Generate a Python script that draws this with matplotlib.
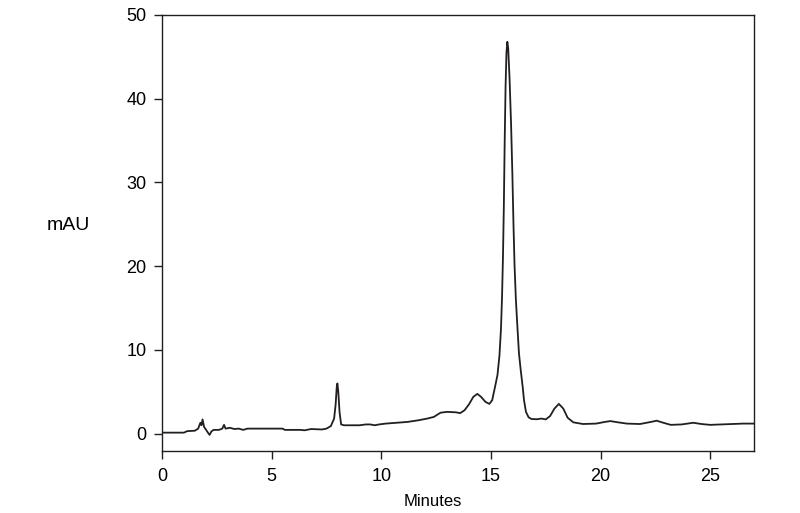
"""Chromatogram trace (mAU vs minutes)."""

import matplotlib

matplotlib.use("Agg")
import matplotlib.pyplot as plt

plt.rcParams["font.family"] = ["Liberation Sans", "DejaVu Sans"]

# retention time (min) and detector response (mAU)
minutes = [
    0.0, 1.0, 1.15, 1.5, 1.65, 1.75, 1.8, 1.85, 1.92, 2.0, 2.1, 2.17, 2.25,
    2.35, 2.6, 2.75, 2.83, 2.9, 3.1, 3.3, 3.5, 3.7, 3.9, 4.5, 5.5, 5.6, 6.3,
    6.5, 6.8, 7.3, 7.5, 7.7, 7.85, 7.92, 7.97, 8.0, 8.04, 8.1, 8.17, 8.3,
    9.0, 9.3, 9.5, 9.7, 9.9, 10.2, 10.7, 11.2, 11.7, 12.1, 12.4, 12.7, 13.0,
    13.4, 13.6, 13.8, 14.0, 14.2, 14.38, 14.55, 14.75, 14.93, 15.06, 15.19,
    15.3, 15.39, 15.46, 15.51, 15.55, 15.59, 15.63, 15.67, 15.71, 15.75,
    15.79, 15.85, 15.92, 15.98, 16.03, 16.08, 16.14, 16.2, 16.28, 16.36,
    16.45, 16.51, 16.6, 16.72, 16.85, 17.1, 17.3, 17.5, 17.7, 17.9, 18.1,
    18.3, 18.5, 18.76, 19.2, 19.8, 20.2, 20.45, 20.8, 21.2, 21.8, 22.3,
    22.56, 22.8, 23.2, 23.7, 24.23, 24.6, 25.0, 25.5, 26.0, 26.5, 27.0,
]
mau = [
    0.12, 0.12, 0.3, 0.35, 0.6, 1.3, 1.0, 1.7, 0.8, 0.5, 0.1, -0.15, 0.25,
    0.45, 0.45, 0.6, 1.05, 0.6, 0.7, 0.55, 0.6, 0.45, 0.6, 0.6, 0.6, 0.45,
    0.45, 0.4, 0.55, 0.5, 0.6, 0.9, 1.8, 3.5, 5.6, 6.0, 5.0, 2.5, 1.1, 1.0,
    1.0, 1.1, 1.1, 1.0, 1.1, 1.2, 1.3, 1.4, 1.6, 1.8, 2.0, 2.5, 2.6,
    2.55, 2.45, 2.8, 3.5, 4.4, 4.75, 4.4, 3.8, 3.55, 4.0, 5.6,
    7.0, 9.3, 12.5, 16.5, 21.0, 27.0, 35.0, 41.5, 45.5, 46.8,
    46.0, 42.5, 37.0, 31.0, 25.0, 20.0, 16.0, 13.2, 9.6, 7.6,
    5.6, 4.0, 2.6, 1.95, 1.75, 1.72, 1.8, 1.7, 2.1, 3.0, 3.55,
    3.0, 1.9, 1.35, 1.15, 1.2, 1.4, 1.5, 1.35, 1.2, 1.15, 1.4,
    1.55, 1.35, 1.05, 1.1, 1.3, 1.15, 1.05, 1.1, 1.15, 1.2, 1.2,
]
x_ticks = [0, 5, 10, 15, 20, 25]
y_ticks = [0, 10, 20, 30, 40, 50]

fig = plt.figure(figsize=(8, 5.13), dpi=100)
ax = fig.add_axes([0.2025, 0.1209, 0.74, 0.8499])

ax.plot(minutes, mau, color="#231f20", linewidth=1.3)

ax.set_xlim(0, 27)
ax.set_ylim(-2.07, 50)
ax.set_xticks(x_ticks)
ax.set_yticks(y_ticks)
ax.tick_params(axis="both", direction="out", length=6, width=1.0,
               labelsize=13, color="#231f20")
ax.tick_params(axis="x", pad=6)
ax.tick_params(axis="y", pad=5)
for spine in ax.spines.values():
    spine.set_linewidth(1.0)
    spine.set_color("#231f20")

ax.set_xlabel("Minutes", fontsize=12, va="center")
ax.xaxis.set_label_coords(0.458, -0.117)
ax.set_ylabel("mAU", fontsize=14, rotation=0, ha="center", va="center")
ax.yaxis.set_label_coords(-0.158, 0.518)

fig.savefig("out.png", dpi=100, facecolor="white")
plt.close(fig)
